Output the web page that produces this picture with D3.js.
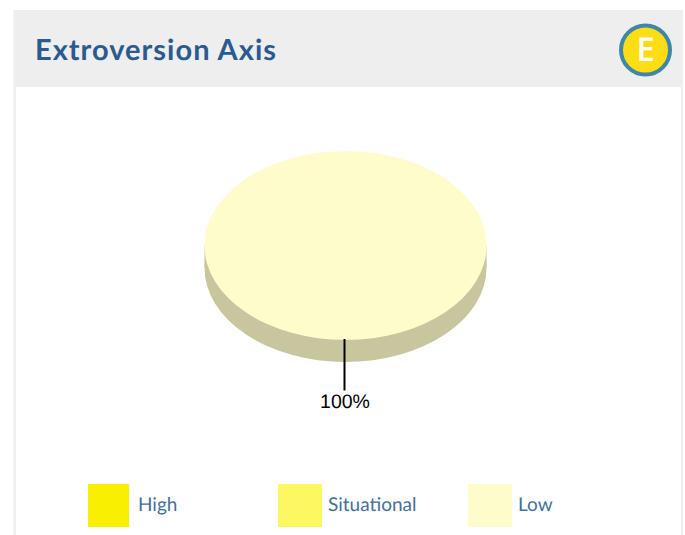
<!DOCTYPE html>
<html>
<head>
<meta charset="utf-8">
<script src="https://d3js.org/d3.v7.min.js"></script>
<style>
    html, body { margin: 0; padding: 0; background: #fff; overflow: hidden; }
    svg { display: block; text-rendering: geometricPrecision; }
</style>
</head>
<body>
<svg width="685" height="535"></svg>
<script>
    var categories = ["High", "Situational", "Low"];
    var values = [0, 0, 100];
    var valueLabels = ["0%", "0%", "100%"];
    var titleText = "Extroversion Axis";
    var badgeLetter = "E";

    var topColors = ["#f9ef00", "#fef860", "#fefccb"];
    var sideColors = ["#c6bf00", "#ccc64b", "#c7c69e"];
    var blue = "#2a5a8f";

    var svg = d3.select("svg");

    // card and grey header
    svg.append("rect").attr("x", 13.5).attr("y", 10).attr("width", 669.5).attr("height", 530).attr("fill", "#eeeeee");
    svg.append("rect").attr("x", 16).attr("y", 87).attr("width", 665).attr("height", 460).attr("fill", "#fff");

    svg.append("text")
        .attr("x", 35).attr("y", 60)
        .attr("font-family", "Lato, 'Open Sans', sans-serif")
        .attr("font-weight", 700)
        .attr("font-size", 29)
        .attr("textLength", 241)
        .attr("fill", blue)
        .text(titleText);

    // badge
    var badge = svg.append("g").style("filter", "blur(0.5px)");
    badge.append("circle").attr("cx", 645.5).attr("cy", 50).attr("r", 24.5).attr("fill", "#ffdd15")
        .attr("stroke", "#3f87a8").attr("stroke-width", 4);
    badge.append("text")
        .attr("x", 645.5).attr("y", 61)
        .attr("text-anchor", "middle")
        .attr("font-family", "'Open Sans', sans-serif")
        .attr("font-weight", 600)
        .attr("font-size", 33)
        .attr("fill", "#fff")
        .text(badgeLetter);

    // pie, squashed into an ellipse
    var cx = 345.5, cy = 245.5, rx = 141, ry = 94.5, depth = 22;
    var pie = d3.pie().sort(null).value(function(d) { return d; })(values);
    var arc = d3.arc().innerRadius(0).outerRadius(rx);

    var side = svg.append("g").attr("transform", "translate(" + cx + "," + (cy + depth) + ") scale(1," + (ry / rx) + ")");
    side.selectAll("path").data(pie).enter().append("path")
        .attr("d", arc)
        .attr("fill", function(d, i) { return sideColors[i]; });
    svg.append("rect").attr("x", cx - rx).attr("y", cy).attr("width", rx * 2).attr("height", depth)
        .attr("fill", sideColors[values.indexOf(d3.max(values))]);

    var top_ = svg.append("g").attr("transform", "translate(" + cx + "," + cy + ") scale(1," + (ry / rx) + ")");
    top_.selectAll("path").data(pie).enter().append("path")
        .attr("d", arc)
        .attr("fill", function(d, i) { return topColors[i]; });

    // leader line and label, only for slices with a value
    var shown = pie.filter(function(d) { return d.value > 0; });
    shown.forEach(function(d) {
        var mid = (d.startAngle + d.endAngle) / 2;
        // a full pie puts its label at the bottom
        var a = (d.endAngle - d.startAngle) >= 2 * Math.PI ? Math.PI : mid;
        var x0 = cx + Math.sin(a) * rx, y0 = cy - Math.cos(a) * ry;
        svg.append("line")
            .attr("x1", x0 - 1).attr("x2", x0 - 1)
            .attr("y1", y0 - 1).attr("y2", y0 + 50.5)
            .attr("stroke", "#000").attr("stroke-width", 2);
        svg.append("text")
            .attr("x", x0 - 0.5).attr("y", y0 + 68)
            .attr("text-anchor", "middle")
            .attr("font-family", "'Liberation Sans', Arial, sans-serif")
            .attr("font-size", 19.5)
            .attr("fill", "#000")
            .text(valueLabels[d.index]);
    });

    // legend
    var legendX = d3.scalePoint().domain(categories).range([88, 468]);
    var legend = svg.selectAll(".legend").data(categories).enter().append("g")
        .attr("class", "legend")
        .attr("transform", function(d) { return "translate(" + legendX(d) + ",484)"; });
    legend.append("rect")
        .attr("width", function(d, i) { return i === 0 ? 41 : 44; })
        .attr("height", 43)
        .attr("fill", function(d, i) { return topColors[i]; });
    legend.append("text")
        .attr("x", 50)
        .attr("y", 27)
        .attr("font-family", "Lato, 'Open Sans', sans-serif")
        .attr("font-size", 19)
        .attr("fill", "#44709c")
        .text(function(d) { return d; });
</script>
</body>
</html>
